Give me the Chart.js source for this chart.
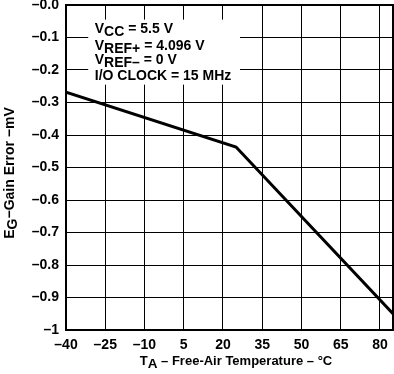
<!DOCTYPE html>
<html><head><meta charset="utf-8">
<script src="https://cdn.jsdelivr.net/npm/chart.js@4/dist/chart.umd.min.js"></script>
<style>html,body{margin:0;padding:0;background:#fff;}#wrap{width:394px;height:374px;}</style>
</head><body><div id="wrap"><canvas id="c" width="394" height="374"></canvas></div>
<script>
const temps = [-40, 25, 85];
const gainError = [-0.268, -0.437, -0.95];
const xTicks = [-40, -25, -10, 5, 20, 35, 50, 65, 80];
const xTickLabels = ['–40', '–25', '–10', '5', '20', '35', '50', '65', '80'];
const yTicks = [0, -0.1, -0.2, -0.3, -0.4, -0.5, -0.6, -0.7, -0.8, -0.9, -1];
const yTickLabels = ['–0.0', '–0.1', '–0.2', '–0.3', '–0.4', '–0.5', '–0.6', '–0.7', '–0.8', '–0.9', '–1'];
const noteLines = [
  [['V', false], ['CC', true], [' = 5.5 V', false]],
  [['V', false], ['REF+', true], [' = 4.096 V', false]],
  [['V', false], ['REF–', true], [' = 0 V', false]],
  [['I/O CLOCK = 15 MHz', false]]
];
const xTitle = [['T', false], ['A', true], [' – Free-Air Temperature – °C', false]];
const yTitle = [['E', false], ['G', true], ['−Gain Error −mV', false]];

const FONT = '"Liberation Sans", Arial, sans-serif';

function partsWidth(ctx, parts, size, subSize) {
  let w = 0;
  for (const [t, sub] of parts) {
    ctx.font = 'bold ' + (sub ? subSize : size) + 'px ' + FONT;
    w += ctx.measureText(t).width;
  }
  return w;
}
function drawParts(ctx, x, y, parts, size, subSize, subDrop) {
  let cx = x;
  for (const [t, sub] of parts) {
    ctx.font = 'bold ' + (sub ? subSize : size) + 'px ' + FONT;
    ctx.fillText(t, cx, sub ? y + subDrop : y);
    cx += ctx.measureText(t).width;
  }
}

const decor = {
  id: 'decor',
  beforeDatasetsDraw(chart) {
    const ctx = chart.ctx;
    const xs = chart.scales.x, ys = chart.scales.y;
    ctx.save();
    const bx = xs.getPixelForValue(-31.5), by = ys.getPixelForValue(-0.045);
    const bx2 = xs.getPixelForValue(26.5), by2 = ys.getPixelForValue(-0.245);
    ctx.fillStyle = '#fff';
    ctx.fillRect(bx, by, bx2 - bx, by2 - by);
    ctx.fillStyle = '#000';
    ctx.textBaseline = 'alphabetic';
    ctx.textAlign = 'left';
    const tx = xs.getPixelForValue(-29);
    const baselines = [-0.087, -0.137, -0.182, -0.232];
    noteLines.forEach((ln, i) => {
      drawParts(ctx, tx, ys.getPixelForValue(baselines[i]), ln, 14, 14, 3);
    });
    ctx.restore();
  },
  afterDraw(chart) {
    const ctx = chart.ctx;
    const a = chart.chartArea;
    ctx.save();
    ctx.strokeStyle = '#000';
    ctx.lineWidth = 2;
    ctx.strokeRect(a.left, a.top, a.right - a.left, a.bottom - a.top);
    ctx.fillStyle = '#000';
    ctx.textBaseline = 'alphabetic';
    const w = partsWidth(ctx, xTitle, 13, 13.5);
    drawParts(ctx, 236 - w / 2, 365, xTitle, 13, 13.5, 3);
    ctx.translate(14, 173);
    ctx.rotate(-Math.PI / 2);
    const wy = partsWidth(ctx, yTitle, 14, 14);
    drawParts(ctx, -wy / 2, 0, yTitle, 14, 14, 3);
    ctx.restore();
  }
};

new Chart(document.getElementById('c'), {
  type: 'line',
  data: {
    datasets: [{
      data: temps.map((t, i) => ({x: t, y: gainError[i]})),
      borderColor: '#000',
      borderWidth: 3,
      pointRadius: 0,
      tension: 0,
      fill: false
    }]
  },
  options: {
    responsive: false,
    animation: false,
    devicePixelRatio: 1,
    layout: {padding: {top: 5, right: 1, left: 0, bottom: 0}},
    plugins: {legend: {display: false}, tooltip: {enabled: false}},
    scales: {
      x: {
        type: 'linear', min: -40, max: 85,
        afterBuildTicks(s) { s.ticks = xTicks.map(v => ({value: v})); },
        afterFit(s) { s.height = 44; s.paddingLeft = 0; s.paddingRight = 0; },
        grid: {color: '#000', lineWidth: 1, drawTicks: false},
        border: {display: false},
        ticks: {
          padding: 7, color: '#000', maxRotation: 0, autoSkip: false,
          font: {family: FONT, size: 14, weight: 'bold'},
          callback(v) { const i = xTicks.indexOf(v); return i >= 0 ? xTickLabels[i] : ''; }
        }
      },
      y: {
        type: 'linear', min: -1, max: 0,
        afterBuildTicks(s) { s.ticks = yTicks.map(v => ({value: v})); },
        afterFit(s) { s.width = 66; s.paddingTop = 0; s.paddingBottom = 0; },
        grid: {color: '#000', lineWidth: 1, drawTicks: false},
        border: {display: false},
        ticks: {
          padding: 7, color: '#000', autoSkip: false,
          font: {family: FONT, size: 14, weight: 'bold'},
          callback(v) { const i = yTicks.findIndex(t => Math.abs(t - v) < 1e-9); return i >= 0 ? yTickLabels[i] : ''; }
        }
      }
    }
  },
  plugins: [decor]
});
</script></body></html>
